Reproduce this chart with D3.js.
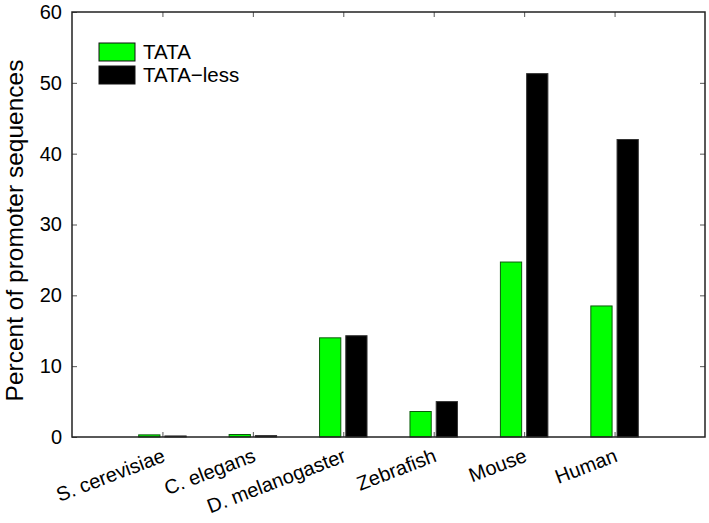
<!DOCTYPE html>
<html>
<head>
<meta charset="utf-8">
<script src="https://cdn.jsdelivr.net/npm/d3@7"></script>
<style>
  body { margin: 0; background: #fff; }
  text { font-family: "Liberation Sans", Arial, sans-serif; fill: #000; }
</style>
</head>
<body>
<div id="chart"></div>
<script>
// data
const species = ["S. cerevisiae", "C. elegans", "D. melanogaster", "Zebrafish", "Mouse", "Human"];
const tataValues = [0.3, 0.35, 14.0, 3.6, 24.7, 18.5];
const tataLessValues = [0.15, 0.2, 14.3, 5.0, 51.3, 42.0];
const seriesNames = ["TATA", "TATA\u2212less"];
const seriesColors = ["#00ff00", "#000000"];
const yTicks = [0, 10, 20, 30, 40, 50, 60];

const W = 709, H = 523;
const margin = { top: 12, right: 4, bottom: 86, left: 72 };
const width = W - margin.left - margin.right;
const height = H - margin.top - margin.bottom;

const svg = d3.select("#chart").append("svg")
    .attr("width", W)
    .attr("height", H);

const g = svg.append("g")
    .attr("transform", `translate(${margin.left},${margin.top})`);

// categories sit at 1..6 on a 0..7 axis
const x = d3.scaleLinear().domain([0, species.length + 1]).range([0, width]);
const y = d3.scaleLinear().domain([0, 60]).range([height, 0]);

const step = x(1) - x(0);
const barW = step * 0.235;
const gap = step * 0.055;

// bars
const rows = species.map((s, i) => ({ s, i, vals: [tataValues[i], tataLessValues[i]] }));

rows.forEach(r => {
    const cx = x(r.i + 1);
    g.append("rect")
        .attr("x", cx - gap / 2 - barW)
        .attr("y", y(r.vals[0]))
        .attr("width", barW)
        .attr("height", y(0) - y(r.vals[0]))
        .attr("fill", seriesColors[0])
        .attr("stroke", "#0b5a0b")
        .attr("stroke-width", 1);
    g.append("rect")
        .attr("x", cx + gap / 2)
        .attr("y", y(r.vals[1]))
        .attr("width", barW)
        .attr("height", y(0) - y(r.vals[1]))
        .attr("fill", seriesColors[1])
        .attr("stroke", "#333")
        .attr("stroke-width", 1);
});

// axes frame with inward ticks
const tickLen = 5;
const catTicks = d3.range(1, species.length + 1);

g.append("g")
    .attr("transform", `translate(0,${height})`)
    .call(d3.axisBottom(x).tickValues(catTicks).tickSize(-tickLen).tickFormat(""))
    .call(a => a.select(".domain").remove())
    .selectAll("line").attr("stroke", "#555");

g.append("g")
    .call(d3.axisTop(x).tickValues(catTicks).tickSize(-tickLen).tickFormat(""))
    .call(a => a.select(".domain").remove())
    .selectAll("line").attr("stroke", "#555");

const yAxis = g.append("g")
    .call(d3.axisLeft(y).tickValues(yTicks).tickSize(-tickLen).tickPadding(10))
    .call(a => a.select(".domain").remove());
yAxis.selectAll("line").attr("stroke", "#555");
yAxis.selectAll("text")
    .attr("font-size", 20)
    .attr("font-family", "Liberation Sans, Arial, sans-serif");

g.append("g")
    .attr("transform", `translate(${width},0)`)
    .call(d3.axisRight(y).tickValues(yTicks.slice(1, -1)).tickSize(-tickLen).tickFormat(""))
    .call(a => a.select(".domain").remove())
    .selectAll("line").attr("stroke", "#555");

g.append("rect")
    .attr("x", 0).attr("y", 0)
    .attr("width", width).attr("height", height)
    .attr("fill", "none")
    .attr("stroke", "#222")
    .attr("stroke-width", 1.5);

// category labels, slanted
g.selectAll(".xlab")
    .data(species)
    .enter()
    .append("text")
    .attr("class", "xlab")
    .attr("transform", (d, i) => `translate(${x(i + 1) + 4},${height + 24}) rotate(-21)`)
    .attr("text-anchor", "end")
    .attr("font-size", 20)
    .text(d => d);

// y axis title
svg.append("text")
    .attr("transform", `translate(23,${margin.top + height / 2 + 6}) rotate(-90)`)
    .attr("text-anchor", "middle")
    .attr("font-size", 24.5)
    .text("Percent of promoter sequences");

// legend
const legend = g.append("g").attr("transform", "translate(27,31)");
seriesNames.forEach((name, i) => {
    legend.append("rect")
        .attr("x", 0)
        .attr("y", i * 23)
        .attr("width", 36)
        .attr("height", 18)
        .attr("fill", seriesColors[i])
        .attr("stroke", "#111")
        .attr("stroke-width", 1);
    legend.append("text")
        .attr("x", 44)
        .attr("y", i * 23 + 16)
        .attr("font-size", 20.5)
        .text(name);
});
</script>
</body>
</html>
